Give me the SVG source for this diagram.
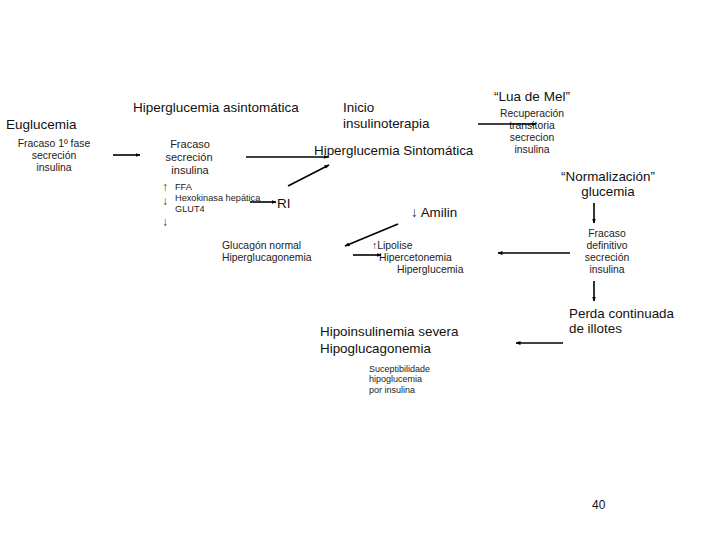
<svg xmlns="http://www.w3.org/2000/svg" width="720" height="540" viewBox="0 0 720 540">
<defs>
<marker id="ah" viewBox="0 0 10 10" refX="9" refY="5" markerWidth="5" markerHeight="5" orient="auto" markerUnits="userSpaceOnUse">
<path d="M0,1 L10,5 L0,9 Z" fill="#000"/>
</marker>
<style>
text{font-family:"Liberation Sans",Arial,sans-serif;fill:#111}
.big{font-size:13.5px}
.med{font-size:13.4px}
.sm{font-size:10.4px;fill:#222}
.sm2{font-size:11px;fill:#222}
.xs{font-size:9.2px;fill:#222}
.xxs{font-size:9px;fill:#222}
.ar{font-size:12px;fill:#333}
.c{text-anchor:middle}
.ln{stroke:#000;stroke-width:1.6;fill:none;marker-end:url(#ah)}
</style>
</defs>
<rect width="720" height="540" fill="#fff"/>
<g id="euglucemia"><text class="big" x="6" y="129">Euglucemia</text></g>
<g id="fracaso1"><text class="sm c" x="54" y="147">Fracaso 1º fase</text><text class="sm c" x="54" y="159">secreción</text><text class="sm c" x="54" y="171">insulina</text></g>
<g id="asintomatica"><text class="big" x="133" y="112">Hiperglucemia asintomática</text></g>
<g id="fracaso2"><text class="sm2 c" x="190" y="148">Fracaso</text><text class="sm2 c" x="189" y="161">secreción</text><text class="sm2 c" x="190" y="174">insulina</text></g>
<g id="ffa"><text class="ar" x="162" y="191">↑</text><text class="xs" x="175" y="190">FFA</text><text class="xs" x="175" y="201">Hexokinasa hepática</text><text class="ar" x="162" y="205">↓</text><text class="xs" x="175" y="212">GLUT4</text><text class="ar" x="162" y="226">↓</text></g>
<g id="ri"><text class="big" x="277" y="208">RI</text></g>
<g id="inicio"><text class="med" x="343" y="112">Inicio</text><text class="med" x="343" y="128">insulinoterapia</text></g>
<g id="sintomatica"><text class="med" x="314" y="155">Hiperglucemia Sintomática</text></g>
<g id="luademel"><text class="big c" x="532" y="101">“Lua de Mel”</text><text class="sm c" x="532" y="117">Recuperación</text><text class="sm c" x="532" y="129">transitoria</text><text class="sm c" x="532" y="141">secrecion</text><text class="sm c" x="532" y="153">insulina</text></g>
<g id="normalizacion"><text class="med c" x="608" y="181">“Normalización”</text><text class="med c" x="608" y="196">glucemia</text></g>
<g id="fracasodef"><text class="sm c" x="607" y="237">Fracaso</text><text class="sm c" x="607" y="249">definitivo</text><text class="sm c" x="607" y="261">secreción</text><text class="sm c" x="607" y="273">insulina</text></g>
<g id="perda"><text class="med" x="569" y="318">Perda continuada</text><text class="med" x="569" y="333">de illotes</text></g>
<g id="hipoinsulinemia"><text class="med" x="320" y="336">Hipoinsulinemia severa</text><text class="med" x="320" y="353">Hipoglucagonemia</text></g>
<g id="suceptibilidade"><text class="xxs" x="369" y="372">Suceptibilidade</text><text class="xxs" x="369" y="382">hipoglucemia</text><text class="xxs" x="369" y="393">por insulina</text></g>
<g id="amilin"><text class="med" x="411" y="217">↓ Amilin</text></g>
<g id="glucagon"><text class="sm" x="222" y="249">Glucagón normal</text><text class="sm" x="222" y="261">Hiperglucagonemia</text></g>
<g id="lipolise"><text class="sm" x="372" y="249">↑Lipolise</text><text class="sm" x="379" y="261">Hipercetonemia</text><text class="sm" x="397" y="273">Hiperglucemia</text></g>
<g id="pagenum"><text x="592" y="509" style="font-size:12px">40</text></g>
<g id="connectors">
<line class="ln" x1="113" y1="155" x2="140" y2="155"/>
<line class="ln" x1="246" y1="157" x2="328" y2="157"/>
<line class="ln" x1="250" y1="202" x2="276" y2="202"/>
<line class="ln" x1="288" y1="186" x2="329" y2="165"/>
<line class="ln" x1="478" y1="124" x2="536" y2="124"/>
<line class="ln" x1="594" y1="203" x2="594" y2="223"/>
<line class="ln" x1="570" y1="253" x2="498" y2="253"/>
<line class="ln" x1="594" y1="281" x2="594" y2="301"/>
<line class="ln" x1="563" y1="343" x2="516" y2="343"/>
<line class="ln" x1="398" y1="224" x2="345" y2="246"/>
<line class="ln" x1="353" y1="255" x2="381" y2="255"/>
</g>
</svg>
